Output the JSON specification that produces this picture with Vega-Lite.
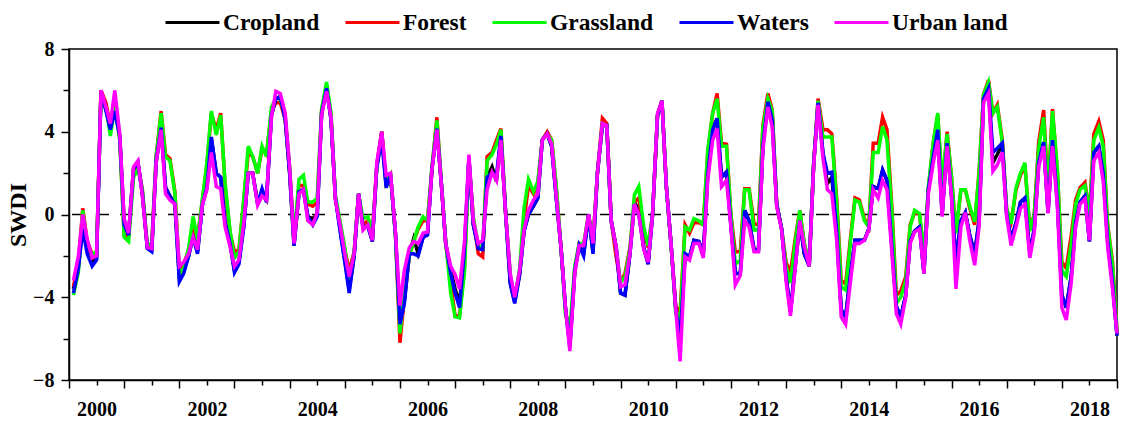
{
"$schema":"https://vega.github.io/schema/vega-lite/v6.json",
"width":1048,"height":331,
"autosize":{"type":"none"},
"padding":{"left":69,"top":49,"right":11,"bottom":44},
"config":{
 "view":{"stroke":"#000","strokeWidth":1.5},
 "axis":{"domainColor":"#000","domainWidth":1.5,"tickColor":"#000","tickWidth":1.5,"labelColor":"#000","labelFont":"Liberation Serif","labelFontWeight":"bold","labelFontSize":20,"titleFont":"Liberation Serif","titleFontWeight":"bold","titleFontSize":23,"titleColor":"#000","grid":false}
},
"layer":[
{"data":{"values":[{"zero":0}]},
 "mark":{"type":"rule","stroke":"#000","strokeWidth":1.3,"strokeDash":[13,11]},
 "encoding":{"y":{"field":"zero","type":"quantitative","scale":{"domain":[-8,8],"nice":false}}}},
{"data":{"values":[
{"t":2000.08,"Cropland":-3.6,"Forest":-3.5,"Grassland":-3.9,"Waters":-3.8,"Urban land":-3.2},
{"t":2000.17,"Cropland":-2.5,"Forest":-2.3,"Grassland":-2.8,"Waters":-2.6,"Urban land":-2.0},
{"t":2000.25,"Cropland":-0.5,"Forest":0.3,"Grassland":0.2,"Waters":-0.7,"Urban land":0.0},
{"t":2000.33,"Cropland":-1.7,"Forest":-1.3,"Grassland":-1.5,"Waters":-1.9,"Urban land":-1.2},
{"t":2000.42,"Cropland":-2.3,"Forest":-1.9,"Grassland":-1.9,"Waters":-2.5,"Urban land":-2.1},
{"t":2000.5,"Cropland":-2.1,"Forest":-1.9,"Grassland":-1.8,"Waters":-2.2,"Urban land":-2.0},
{"t":2000.58,"Cropland":6.0,"Forest":6.0,"Grassland":5.7,"Waters":5.9,"Urban land":6.0},
{"t":2000.67,"Cropland":5.1,"Forest":5.4,"Grassland":5.2,"Waters":5.0,"Urban land":5.2},
{"t":2000.75,"Cropland":4.2,"Forest":4.3,"Grassland":3.8,"Waters":4.1,"Urban land":4.4},
{"t":2000.83,"Cropland":5.1,"Forest":5.3,"Grassland":5.2,"Waters":5.0,"Urban land":6.0},
{"t":2000.92,"Cropland":3.8,"Forest":3.7,"Grassland":3.6,"Waters":3.8,"Urban land":3.9},
{"t":2001.0,"Cropland":-0.4,"Forest":-1.0,"Grassland":-1.1,"Waters":-0.5,"Urban land":-0.2},
{"t":2001.08,"Cropland":-1.0,"Forest":-1.1,"Grassland":-1.3,"Waters":-1.0,"Urban land":-0.9},
{"t":2001.17,"Cropland":2.2,"Forest":2.0,"Grassland":1.8,"Waters":2.2,"Urban land":2.3},
{"t":2001.25,"Cropland":2.5,"Forest":2.4,"Grassland":2.2,"Waters":2.5,"Urban land":2.6},
{"t":2001.33,"Cropland":1.0,"Forest":1.2,"Grassland":1.2,"Waters":1.0,"Urban land":0.9},
{"t":2001.42,"Cropland":-1.6,"Forest":-1.5,"Grassland":-1.5,"Waters":-1.65,"Urban land":-1.6},
{"t":2001.5,"Cropland":-1.7,"Forest":-1.5,"Grassland":-1.4,"Waters":-1.8,"Urban land":-1.65},
{"t":2001.58,"Cropland":2.5,"Forest":2.8,"Grassland":2.8,"Waters":2.6,"Urban land":2.5},
{"t":2001.67,"Cropland":4.2,"Forest":5.0,"Grassland":4.9,"Waters":4.2,"Urban land":4.1},
{"t":2001.75,"Cropland":1.3,"Forest":2.9,"Grassland":2.8,"Waters":1.3,"Urban land":1.0},
{"t":2001.83,"Cropland":0.9,"Forest":2.7,"Grassland":2.6,"Waters":0.85,"Urban land":0.7},
{"t":2001.92,"Cropland":0.5,"Forest":1.1,"Grassland":1.0,"Waters":0.5,"Urban land":0.5},
{"t":2002.0,"Cropland":-3.0,"Forest":-2.7,"Grassland":-2.9,"Waters":-3.25,"Urban land":-2.5},
{"t":2002.08,"Cropland":-2.7,"Forest":-2.4,"Grassland":-2.6,"Waters":-2.85,"Urban land":-2.3},
{"t":2002.17,"Cropland":-2.0,"Forest":-1.7,"Grassland":-1.6,"Waters":-2.0,"Urban land":-1.9},
{"t":2002.25,"Cropland":-0.9,"Forest":-0.7,"Grassland":-0.1,"Waters":-1.1,"Urban land":-1.1},
{"t":2002.33,"Cropland":-1.8,"Forest":-1.1,"Grassland":-1.2,"Waters":-1.9,"Urban land":-1.7},
{"t":2002.42,"Cropland":0.5,"Forest":0.7,"Grassland":0.8,"Waters":0.5,"Urban land":0.5},
{"t":2002.5,"Cropland":1.3,"Forest":2.4,"Grassland":2.5,"Waters":1.3,"Urban land":1.2},
{"t":2002.58,"Cropland":3.7,"Forest":4.9,"Grassland":5.0,"Waters":3.75,"Urban land":3.0},
{"t":2002.67,"Cropland":2.0,"Forest":4.1,"Grassland":3.85,"Waters":2.0,"Urban land":1.35},
{"t":2002.75,"Cropland":1.8,"Forest":4.9,"Grassland":4.8,"Waters":1.8,"Urban land":1.25},
{"t":2002.83,"Cropland":-0.4,"Forest":1.4,"Grassland":1.5,"Waters":-0.4,"Urban land":-0.6},
{"t":2002.92,"Cropland":-1.4,"Forest":-0.9,"Grassland":-0.8,"Waters":-1.4,"Urban land":-1.55},
{"t":2003.0,"Cropland":-2.7,"Forest":-1.8,"Grassland":-2.1,"Waters":-2.8,"Urban land":-2.5},
{"t":2003.08,"Cropland":-2.3,"Forest":-1.7,"Grassland":-1.8,"Waters":-2.4,"Urban land":-2.2},
{"t":2003.17,"Cropland":-0.5,"Forest":0.7,"Grassland":0.8,"Waters":-0.6,"Urban land":-0.4},
{"t":2003.25,"Cropland":2.0,"Forest":3.0,"Grassland":3.3,"Waters":2.0,"Urban land":2.0},
{"t":2003.33,"Cropland":2.0,"Forest":2.8,"Grassland":2.8,"Waters":2.0,"Urban land":2.0},
{"t":2003.42,"Cropland":0.6,"Forest":2.0,"Grassland":2.0,"Waters":0.5,"Urban land":0.45},
{"t":2003.5,"Cropland":1.0,"Forest":3.2,"Grassland":3.3,"Waters":1.25,"Urban land":0.9},
{"t":2003.58,"Cropland":0.7,"Forest":2.9,"Grassland":2.8,"Waters":0.6,"Urban land":0.7},
{"t":2003.67,"Cropland":4.8,"Forest":5.0,"Grassland":5.2,"Waters":4.8,"Urban land":4.7},
{"t":2003.75,"Cropland":5.6,"Forest":5.4,"Grassland":5.6,"Waters":5.6,"Urban land":5.95},
{"t":2003.83,"Cropland":5.7,"Forest":5.4,"Grassland":5.6,"Waters":5.7,"Urban land":5.85},
{"t":2003.92,"Cropland":4.6,"Forest":4.6,"Grassland":4.7,"Waters":4.6,"Urban land":4.9},
{"t":2004.0,"Cropland":2.0,"Forest":2.2,"Grassland":2.3,"Waters":2.0,"Urban land":2.3},
{"t":2004.08,"Cropland":-1.5,"Forest":-1.3,"Grassland":-1.2,"Waters":-1.5,"Urban land":-1.4},
{"t":2004.17,"Cropland":1.1,"Forest":1.4,"Grassland":1.7,"Waters":1.1,"Urban land":1.0},
{"t":2004.25,"Cropland":1.2,"Forest":1.4,"Grassland":1.9,"Waters":1.2,"Urban land":1.2},
{"t":2004.33,"Cropland":-0.1,"Forest":0.5,"Grassland":0.6,"Waters":-0.1,"Urban land":-0.3},
{"t":2004.42,"Cropland":-0.2,"Forest":0.4,"Grassland":0.6,"Waters":-0.5,"Urban land":-0.5},
{"t":2004.5,"Cropland":0.0,"Forest":0.6,"Grassland":0.8,"Waters":-0.1,"Urban land":0.1},
{"t":2004.58,"Cropland":4.9,"Forest":5.0,"Grassland":5.1,"Waters":4.9,"Urban land":4.8},
{"t":2004.67,"Cropland":6.1,"Forest":6.2,"Grassland":6.4,"Waters":6.1,"Urban land":5.95},
{"t":2004.75,"Cropland":4.6,"Forest":4.8,"Grassland":4.9,"Waters":4.6,"Urban land":4.7},
{"t":2004.83,"Cropland":0.8,"Forest":0.8,"Grassland":0.9,"Waters":0.8,"Urban land":0.7},
{"t":2004.92,"Cropland":-0.8,"Forest":-0.5,"Grassland":-0.4,"Waters":-0.9,"Urban land":-0.6},
{"t":2005.0,"Cropland":-2.2,"Forest":-1.7,"Grassland":-1.6,"Waters":-2.3,"Urban land":-1.9},
{"t":2005.08,"Cropland":-3.6,"Forest":-2.7,"Grassland":-3.2,"Waters":-3.8,"Urban land":-3.0},
{"t":2005.17,"Cropland":-2.0,"Forest":-1.8,"Grassland":-1.8,"Waters":-2.0,"Urban land":-1.9},
{"t":2005.25,"Cropland":1.0,"Forest":1.0,"Grassland":1.0,"Waters":1.0,"Urban land":1.0},
{"t":2005.33,"Cropland":-0.6,"Forest":-0.5,"Grassland":-0.2,"Waters":-0.6,"Urban land":-0.75},
{"t":2005.42,"Cropland":-0.5,"Forest":-0.3,"Grassland":-0.1,"Waters":-0.6,"Urban land":-0.5},
{"t":2005.5,"Cropland":-1.3,"Forest":-1.0,"Grassland":-0.9,"Waters":-1.3,"Urban land":-1.25},
{"t":2005.58,"Cropland":2.3,"Forest":2.4,"Grassland":2.3,"Waters":2.3,"Urban land":2.5},
{"t":2005.67,"Cropland":4.0,"Forest":4.0,"Grassland":3.8,"Waters":3.6,"Urban land":4.0},
{"t":2005.75,"Cropland":1.4,"Forest":1.5,"Grassland":1.5,"Waters":1.3,"Urban land":1.9},
{"t":2005.83,"Cropland":1.9,"Forest":1.9,"Grassland":1.9,"Waters":1.9,"Urban land":2.0},
{"t":2005.92,"Cropland":-1.0,"Forest":-1.0,"Grassland":-1.1,"Waters":-1.0,"Urban land":-0.9},
{"t":2006.0,"Cropland":-5.5,"Forest":-6.2,"Grassland":-5.75,"Waters":-5.3,"Urban land":-4.4},
{"t":2006.08,"Cropland":-4.2,"Forest":-4.0,"Grassland":-3.8,"Waters":-4.3,"Urban land":-2.7},
{"t":2006.17,"Cropland":-1.9,"Forest":-2.0,"Grassland":-2.0,"Waters":-1.9,"Urban land":-1.6},
{"t":2006.25,"Cropland":-1.15,"Forest":-1.3,"Grassland":-1.3,"Waters":-1.9,"Urban land":-1.3},
{"t":2006.33,"Cropland":-1.9,"Forest":-0.7,"Grassland":-0.6,"Waters":-2.0,"Urban land":-1.4},
{"t":2006.42,"Cropland":-1.1,"Forest":-0.3,"Grassland":-0.1,"Waters":-1.1,"Urban land":-0.9},
{"t":2006.5,"Cropland":-0.9,"Forest":-0.3,"Grassland":-0.3,"Waters":-1.0,"Urban land":-0.85},
{"t":2006.58,"Cropland":2.2,"Forest":2.2,"Grassland":2.3,"Waters":2.2,"Urban land":2.15},
{"t":2006.67,"Cropland":4.15,"Forest":4.7,"Grassland":4.55,"Waters":4.15,"Urban land":4.1},
{"t":2006.75,"Cropland":1.5,"Forest":1.5,"Grassland":1.6,"Waters":1.5,"Urban land":1.5},
{"t":2006.83,"Cropland":-1.4,"Forest":-1.4,"Grassland":-1.3,"Waters":-1.4,"Urban land":-1.4},
{"t":2006.92,"Cropland":-2.7,"Forest":-3.3,"Grassland":-3.8,"Waters":-2.85,"Urban land":-2.5},
{"t":2007.0,"Cropland":-3.6,"Forest":-4.9,"Grassland":-4.95,"Waters":-3.8,"Urban land":-2.9},
{"t":2007.08,"Cropland":-4.3,"Forest":-4.9,"Grassland":-5.0,"Waters":-4.5,"Urban land":-3.6},
{"t":2007.17,"Cropland":-1.7,"Forest":-2.5,"Grassland":-2.8,"Waters":-1.7,"Urban land":-1.3},
{"t":2007.25,"Cropland":2.7,"Forest":2.7,"Grassland":2.6,"Waters":2.7,"Urban land":2.9},
{"t":2007.33,"Cropland":-0.5,"Forest":-0.2,"Grassland":-0.1,"Waters":-0.5,"Urban land":-0.3},
{"t":2007.42,"Cropland":-1.6,"Forest":-1.9,"Grassland":-1.5,"Waters":-1.65,"Urban land":-1.4},
{"t":2007.5,"Cropland":-1.7,"Forest":-2.05,"Grassland":-1.6,"Waters":-1.7,"Urban land":-1.25},
{"t":2007.58,"Cropland":1.8,"Forest":2.8,"Grassland":2.6,"Waters":1.8,"Urban land":1.2},
{"t":2007.67,"Cropland":2.3,"Forest":3.0,"Grassland":2.9,"Waters":2.0,"Urban land":2.05},
{"t":2007.75,"Cropland":1.6,"Forest":3.6,"Grassland":3.4,"Waters":1.9,"Urban land":1.65},
{"t":2007.83,"Cropland":3.8,"Forest":4.15,"Grassland":4.1,"Waters":3.8,"Urban land":3.6},
{"t":2007.92,"Cropland":-0.1,"Forest":-0.1,"Grassland":-0.1,"Waters":-0.1,"Urban land":-0.1},
{"t":2008.0,"Cropland":-3.3,"Forest":-3.0,"Grassland":-2.9,"Waters":-3.35,"Urban land":-2.85},
{"t":2008.08,"Cropland":-4.2,"Forest":-4.1,"Grassland":-4.1,"Waters":-4.3,"Urban land":-4.0},
{"t":2008.17,"Cropland":-2.9,"Forest":-2.7,"Grassland":-2.6,"Waters":-2.9,"Urban land":-2.7},
{"t":2008.25,"Cropland":-0.8,"Forest":-0.3,"Grassland":0.3,"Waters":-0.8,"Urban land":-0.75},
{"t":2008.33,"Cropland":0.0,"Forest":1.4,"Grassland":1.7,"Waters":0.0,"Urban land":0.2},
{"t":2008.42,"Cropland":0.4,"Forest":1.0,"Grassland":1.1,"Waters":0.4,"Urban land":0.7},
{"t":2008.5,"Cropland":0.8,"Forest":1.5,"Grassland":1.6,"Waters":0.8,"Urban land":1.0},
{"t":2008.58,"Cropland":3.6,"Forest":3.6,"Grassland":3.6,"Waters":3.6,"Urban land":3.6},
{"t":2008.67,"Cropland":3.9,"Forest":4.0,"Grassland":3.9,"Waters":3.9,"Urban land":3.9},
{"t":2008.75,"Cropland":3.3,"Forest":3.6,"Grassland":3.6,"Waters":3.3,"Urban land":3.4},
{"t":2008.83,"Cropland":0.9,"Forest":1.4,"Grassland":1.5,"Waters":0.9,"Urban land":1.0},
{"t":2008.92,"Cropland":-1.6,"Forest":-1.6,"Grassland":-1.6,"Waters":-1.6,"Urban land":-1.6},
{"t":2009.0,"Cropland":-4.5,"Forest":-4.6,"Grassland":-4.8,"Waters":-4.5,"Urban land":-4.45},
{"t":2009.08,"Cropland":-6.3,"Forest":-6.1,"Grassland":-5.6,"Waters":-6.4,"Urban land":-6.6},
{"t":2009.17,"Cropland":-2.7,"Forest":-2.6,"Grassland":-2.5,"Waters":-2.7,"Urban land":-2.85},
{"t":2009.25,"Cropland":-1.5,"Forest":-1.4,"Grassland":-1.4,"Waters":-1.5,"Urban land":-1.5},
{"t":2009.33,"Cropland":-1.9,"Forest":-1.5,"Grassland":-1.4,"Waters":-2.0,"Urban land":-1.5},
{"t":2009.42,"Cropland":0.0,"Forest":0.0,"Grassland":0.0,"Waters":0.0,"Urban land":0.0},
{"t":2009.5,"Cropland":-1.8,"Forest":-1.3,"Grassland":-1.3,"Waters":-1.9,"Urban land":-1.4},
{"t":2009.58,"Cropland":2.0,"Forest":2.0,"Grassland":2.0,"Waters":2.0,"Urban land":2.0},
{"t":2009.67,"Cropland":4.3,"Forest":4.65,"Grassland":4.4,"Waters":4.3,"Urban land":4.4},
{"t":2009.75,"Cropland":4.3,"Forest":4.4,"Grassland":4.3,"Waters":4.3,"Urban land":4.3},
{"t":2009.83,"Cropland":-0.3,"Forest":-0.3,"Grassland":-0.3,"Waters":-0.3,"Urban land":-0.3},
{"t":2009.92,"Cropland":-1.6,"Forest":-2.05,"Grassland":-1.6,"Waters":-1.6,"Urban land":-1.55},
{"t":2010.0,"Cropland":-3.8,"Forest":-3.3,"Grassland":-3.3,"Waters":-3.8,"Urban land":-3.5},
{"t":2010.08,"Cropland":-3.9,"Forest":-2.85,"Grassland":-3.0,"Waters":-3.9,"Urban land":-3.4},
{"t":2010.17,"Cropland":-1.9,"Forest":-1.6,"Grassland":-1.7,"Waters":-1.9,"Urban land":-1.9},
{"t":2010.25,"Cropland":0.6,"Forest":0.6,"Grassland":0.95,"Waters":0.5,"Urban land":0.5},
{"t":2010.33,"Cropland":0.2,"Forest":0.8,"Grassland":1.35,"Waters":0.0,"Urban land":0.0},
{"t":2010.42,"Cropland":-1.6,"Forest":-0.8,"Grassland":-0.6,"Waters":-1.6,"Urban land":-1.7},
{"t":2010.5,"Cropland":-2.4,"Forest":-1.6,"Grassland":-1.5,"Waters":-2.4,"Urban land":-2.3},
{"t":2010.58,"Cropland":0.0,"Forest":0.0,"Grassland":0.0,"Waters":0.0,"Urban land":0.0},
{"t":2010.67,"Cropland":4.8,"Forest":4.8,"Grassland":4.8,"Waters":4.8,"Urban land":4.9},
{"t":2010.75,"Cropland":5.5,"Forest":5.5,"Grassland":5.5,"Waters":5.5,"Urban land":5.5},
{"t":2010.83,"Cropland":1.35,"Forest":1.35,"Grassland":1.35,"Waters":1.35,"Urban land":1.35},
{"t":2010.92,"Cropland":-1.6,"Forest":-1.6,"Grassland":-1.6,"Waters":-1.6,"Urban land":-1.6},
{"t":2011.0,"Cropland":-4.5,"Forest":-4.45,"Grassland":-4.8,"Waters":-4.6,"Urban land":-4.6},
{"t":2011.08,"Cropland":-6.0,"Forest":-4.7,"Grassland":-5.0,"Waters":-6.0,"Urban land":-7.1},
{"t":2011.17,"Cropland":-1.9,"Forest":-0.5,"Grassland":-0.6,"Waters":-1.9,"Urban land":-2.05},
{"t":2011.25,"Cropland":-2.05,"Forest":-0.9,"Grassland":-0.75,"Waters":-2.05,"Urban land":-2.2},
{"t":2011.33,"Cropland":-1.25,"Forest":-0.4,"Grassland":-0.2,"Waters":-1.25,"Urban land":-1.4},
{"t":2011.42,"Cropland":-1.3,"Forest":-0.4,"Grassland":-0.3,"Waters":-1.3,"Urban land":-1.4},
{"t":2011.5,"Cropland":-1.9,"Forest":-0.5,"Grassland":-0.5,"Waters":-1.9,"Urban land":-2.1},
{"t":2011.58,"Cropland":1.9,"Forest":3.0,"Grassland":3.1,"Waters":1.9,"Urban land":1.65},
{"t":2011.67,"Cropland":4.1,"Forest":4.9,"Grassland":4.9,"Waters":4.1,"Urban land":3.6},
{"t":2011.75,"Cropland":4.65,"Forest":5.85,"Grassland":5.6,"Waters":4.65,"Urban land":4.15},
{"t":2011.83,"Cropland":1.8,"Forest":3.45,"Grassland":3.3,"Waters":1.8,"Urban land":1.35},
{"t":2011.92,"Cropland":2.05,"Forest":3.4,"Grassland":3.3,"Waters":2.05,"Urban land":1.65},
{"t":2012.0,"Cropland":-0.5,"Forest":0.0,"Grassland":0.0,"Waters":-0.5,"Urban land":-0.6},
{"t":2012.08,"Cropland":-2.85,"Forest":-1.8,"Grassland":-2.4,"Waters":-2.85,"Urban land":-3.4},
{"t":2012.17,"Cropland":-2.85,"Forest":-1.8,"Grassland":-2.2,"Waters":-2.85,"Urban land":-2.95},
{"t":2012.25,"Cropland":0.2,"Forest":1.25,"Grassland":1.2,"Waters":0.2,"Urban land":-0.3},
{"t":2012.33,"Cropland":-0.3,"Forest":1.25,"Grassland":1.2,"Waters":-0.3,"Urban land":-0.6},
{"t":2012.42,"Cropland":-1.7,"Forest":-0.45,"Grassland":-0.75,"Waters":-1.7,"Urban land":-1.8},
{"t":2012.5,"Cropland":-1.7,"Forest":-0.5,"Grassland":-0.75,"Waters":-1.7,"Urban land":-1.8},
{"t":2012.58,"Cropland":3.3,"Forest":4.3,"Grassland":4.2,"Waters":3.3,"Urban land":3.1},
{"t":2012.67,"Cropland":5.45,"Forest":5.85,"Grassland":5.6,"Waters":5.45,"Urban land":5.2},
{"t":2012.75,"Cropland":4.55,"Forest":5.05,"Grassland":5.0,"Waters":4.55,"Urban land":4.2},
{"t":2012.83,"Cropland":0.5,"Forest":0.5,"Grassland":0.5,"Waters":0.5,"Urban land":0.4},
{"t":2012.92,"Cropland":-0.7,"Forest":-0.7,"Grassland":-0.7,"Waters":-0.7,"Urban land":-0.75},
{"t":2013.0,"Cropland":-3.0,"Forest":-2.3,"Grassland":-2.5,"Waters":-3.0,"Urban land":-3.2},
{"t":2013.08,"Cropland":-4.7,"Forest":-2.8,"Grassland":-3.3,"Waters":-4.7,"Urban land":-4.9},
{"t":2013.17,"Cropland":-2.4,"Forest":-1.1,"Grassland":-1.25,"Waters":-2.4,"Urban land":-2.5},
{"t":2013.25,"Cropland":-0.3,"Forest":0.2,"Grassland":0.2,"Waters":-0.3,"Urban land":-0.3},
{"t":2013.33,"Cropland":-1.9,"Forest":-1.4,"Grassland":-1.4,"Waters":-1.9,"Urban land":-1.55},
{"t":2013.42,"Cropland":-2.5,"Forest":-2.4,"Grassland":-2.4,"Waters":-2.5,"Urban land":-2.5},
{"t":2013.5,"Cropland":2.4,"Forest":2.4,"Grassland":2.4,"Waters":2.4,"Urban land":2.3},
{"t":2013.58,"Cropland":5.4,"Forest":5.6,"Grassland":5.5,"Waters":5.4,"Urban land":5.3},
{"t":2013.67,"Cropland":2.95,"Forest":4.1,"Grassland":3.75,"Waters":2.95,"Urban land":2.7},
{"t":2013.75,"Cropland":1.5,"Forest":4.1,"Grassland":3.75,"Waters":2.0,"Urban land":1.2},
{"t":2013.83,"Cropland":1.8,"Forest":3.9,"Grassland":3.75,"Waters":2.05,"Urban land":1.0},
{"t":2013.92,"Cropland":-0.9,"Forest":0.7,"Grassland":0.5,"Waters":-0.9,"Urban land":-1.3},
{"t":2014.0,"Cropland":-4.6,"Forest":-3.2,"Grassland":-3.5,"Waters":-4.6,"Urban land":-4.95},
{"t":2014.08,"Cropland":-4.95,"Forest":-3.35,"Grassland":-3.65,"Waters":-4.95,"Urban land":-5.3},
{"t":2014.17,"Cropland":-2.85,"Forest":-1.1,"Grassland":-1.25,"Waters":-2.85,"Urban land":-3.2},
{"t":2014.25,"Cropland":-1.25,"Forest":0.8,"Grassland":0.7,"Waters":-1.25,"Urban land":-1.4},
{"t":2014.33,"Cropland":-1.25,"Forest":0.7,"Grassland":0.6,"Waters":-1.25,"Urban land":-1.4},
{"t":2014.42,"Cropland":-1.25,"Forest":-0.2,"Grassland":-0.3,"Waters":-1.25,"Urban land":-1.25},
{"t":2014.5,"Cropland":-0.7,"Forest":-0.6,"Grassland":-0.6,"Waters":-0.7,"Urban land":-0.75},
{"t":2014.58,"Cropland":1.35,"Forest":3.45,"Grassland":3.0,"Waters":1.35,"Urban land":1.2},
{"t":2014.67,"Cropland":1.25,"Forest":3.45,"Grassland":3.0,"Waters":1.25,"Urban land":0.8},
{"t":2014.75,"Cropland":2.15,"Forest":4.7,"Grassland":4.25,"Waters":2.15,"Urban land":1.65},
{"t":2014.83,"Cropland":1.65,"Forest":4.1,"Grassland":3.6,"Waters":1.65,"Urban land":1.2},
{"t":2014.92,"Cropland":-1.6,"Forest":0.3,"Grassland":0.05,"Waters":-1.6,"Urban land":-1.9},
{"t":2015.0,"Cropland":-4.45,"Forest":-3.9,"Grassland":-4.3,"Waters":-4.45,"Urban land":-4.8},
{"t":2015.08,"Cropland":-4.95,"Forest":-3.7,"Grassland":-4.0,"Waters":-4.95,"Urban land":-5.3},
{"t":2015.17,"Cropland":-3.9,"Forest":-3.0,"Grassland":-3.2,"Waters":-3.9,"Urban land":-4.0},
{"t":2015.25,"Cropland":-1.3,"Forest":-0.5,"Grassland":-0.6,"Waters":-1.3,"Urban land":-1.4},
{"t":2015.33,"Cropland":-0.8,"Forest":0.1,"Grassland":0.2,"Waters":-0.8,"Urban land":-0.85},
{"t":2015.42,"Cropland":-0.6,"Forest":0.0,"Grassland":0.05,"Waters":-0.6,"Urban land":-0.7},
{"t":2015.5,"Cropland":-2.85,"Forest":-2.0,"Grassland":-2.05,"Waters":-2.85,"Urban land":-2.85},
{"t":2015.58,"Cropland":1.2,"Forest":1.2,"Grassland":1.35,"Waters":1.2,"Urban land":1.0},
{"t":2015.67,"Cropland":2.8,"Forest":3.5,"Grassland":3.5,"Waters":2.8,"Urban land":2.5},
{"t":2015.75,"Cropland":4.1,"Forest":4.8,"Grassland":4.9,"Waters":4.1,"Urban land":3.6},
{"t":2015.83,"Cropland":0.0,"Forest":1.3,"Grassland":1.5,"Waters":0.0,"Urban land":-0.1},
{"t":2015.92,"Cropland":3.45,"Forest":4.0,"Grassland":3.9,"Waters":3.45,"Urban land":3.3},
{"t":2016.0,"Cropland":0.9,"Forest":1.8,"Grassland":1.8,"Waters":0.9,"Urban land":0.85},
{"t":2016.08,"Cropland":-2.3,"Forest":-0.85,"Grassland":-0.9,"Waters":-2.3,"Urban land":-3.6},
{"t":2016.17,"Cropland":-0.3,"Forest":1.2,"Grassland":1.2,"Waters":-0.3,"Urban land":-0.6},
{"t":2016.25,"Cropland":0.1,"Forest":1.2,"Grassland":1.2,"Waters":0.1,"Urban land":0.1},
{"t":2016.33,"Cropland":-1.0,"Forest":0.3,"Grassland":0.4,"Waters":-1.0,"Urban land":-1.25},
{"t":2016.42,"Cropland":-1.9,"Forest":-0.5,"Grassland":-0.35,"Waters":-1.9,"Urban land":-2.45},
{"t":2016.5,"Cropland":-0.3,"Forest":2.1,"Grassland":2.0,"Waters":-0.3,"Urban land":-0.6},
{"t":2016.58,"Cropland":5.6,"Forest":5.8,"Grassland":5.8,"Waters":5.6,"Urban land":5.4},
{"t":2016.67,"Cropland":6.1,"Forest":6.5,"Grassland":6.4,"Waters":6.1,"Urban land":5.85},
{"t":2016.75,"Cropland":2.5,"Forest":4.9,"Grassland":4.9,"Waters":3.0,"Urban land":2.1},
{"t":2016.83,"Cropland":2.9,"Forest":5.3,"Grassland":5.2,"Waters":3.2,"Urban land":2.4},
{"t":2016.92,"Cropland":3.4,"Forest":3.6,"Grassland":3.5,"Waters":3.45,"Urban land":3.0},
{"t":2017.0,"Cropland":0.0,"Forest":0.2,"Grassland":0.3,"Waters":0.0,"Urban land":-0.1},
{"t":2017.08,"Cropland":-1.2,"Forest":-0.35,"Grassland":-0.45,"Waters":-1.2,"Urban land":-1.5},
{"t":2017.17,"Cropland":-0.4,"Forest":1.2,"Grassland":1.3,"Waters":-0.4,"Urban land":-0.6},
{"t":2017.25,"Cropland":0.6,"Forest":1.9,"Grassland":2.0,"Waters":0.6,"Urban land":0.3},
{"t":2017.33,"Cropland":0.8,"Forest":2.4,"Grassland":2.5,"Waters":0.8,"Urban land":0.5},
{"t":2017.42,"Cropland":-1.9,"Forest":-0.7,"Grassland":-0.8,"Waters":-1.9,"Urban land":-2.1},
{"t":2017.5,"Cropland":-0.7,"Forest":0.0,"Grassland":0.0,"Waters":-0.7,"Urban land":-0.9},
{"t":2017.58,"Cropland":2.5,"Forest":3.5,"Grassland":3.2,"Waters":2.5,"Urban land":2.3},
{"t":2017.67,"Cropland":3.5,"Forest":5.05,"Grassland":4.7,"Waters":3.5,"Urban land":3.3},
{"t":2017.75,"Cropland":0.1,"Forest":1.2,"Grassland":1.0,"Waters":0.1,"Urban land":0.05},
{"t":2017.83,"Cropland":3.6,"Forest":5.1,"Grassland":5.0,"Waters":3.6,"Urban land":3.3},
{"t":2017.92,"Cropland":0.6,"Forest":2.0,"Grassland":2.2,"Waters":0.6,"Urban land":0.35},
{"t":2018.0,"Cropland":-3.9,"Forest":-2.3,"Grassland":-2.7,"Waters":-3.9,"Urban land":-4.5},
{"t":2018.08,"Cropland":-4.5,"Forest":-2.6,"Grassland":-3.0,"Waters":-4.5,"Urban land":-5.1},
{"t":2018.17,"Cropland":-3.0,"Forest":-1.0,"Grassland":-1.4,"Waters":-3.0,"Urban land":-3.3},
{"t":2018.25,"Cropland":-0.4,"Forest":0.7,"Grassland":0.5,"Waters":-0.4,"Urban land":-0.6},
{"t":2018.33,"Cropland":0.6,"Forest":1.3,"Grassland":1.2,"Waters":0.6,"Urban land":0.5},
{"t":2018.42,"Cropland":0.9,"Forest":1.55,"Grassland":1.4,"Waters":0.9,"Urban land":0.75},
{"t":2018.5,"Cropland":-1.3,"Forest":0.0,"Grassland":0.0,"Waters":-1.3,"Urban land":-1.25},
{"t":2018.58,"Cropland":3.0,"Forest":3.9,"Grassland":3.6,"Waters":3.0,"Urban land":2.6},
{"t":2018.67,"Cropland":3.3,"Forest":4.5,"Grassland":4.2,"Waters":3.3,"Urban land":3.0},
{"t":2018.75,"Cropland":2.0,"Forest":3.6,"Grassland":3.3,"Waters":2.0,"Urban land":1.6},
{"t":2018.83,"Cropland":-1.25,"Forest":-0.5,"Grassland":-0.5,"Waters":-1.25,"Urban land":-1.55},
{"t":2018.92,"Cropland":-3.35,"Forest":-2.3,"Grassland":-2.5,"Waters":-3.35,"Urban land":-3.65},
{"t":2019.0,"Cropland":-5.85,"Forest":-5.6,"Grassland":-5.7,"Waters":-5.85,"Urban land":-5.75}
]},
 "transform":[{"fold":["Cropland","Forest","Grassland","Waters","Urban land"],"as":["Type","SWDI"]}],
 "mark":{"type":"line","strokeWidth":3.5,"strokeJoin":"miter"},
 "encoding":{
  "x":{"field":"t","type":"quantitative","scale":{"domain":[2000,2019],"nice":false,"zero":false},
   "axis":{"title":null,"values":[2000,2000.5,2001,2001.5,2002,2002.5,2003,2003.5,2004,2004.5,2005,2005.5,2006,2006.5,2007,2007.5,2008,2008.5,2009,2009.5,2010,2010.5,2011,2011.5,2012,2012.5,2013,2013.5,2014,2014.5,2015,2015.5,2016,2016.5,2017,2017.5,2018,2018.5,2019],
    "labelExpr":"(datum.value - 0.5) % 2 == 0 ? format(datum.value - 0.5, 'd') : ''",
    "tickSize":{"condition":{"test":"datum.value % 1 == 0","value":8},"value":5},
    "labelPadding":14,"labelFlush":false,"labelOverlap":false}},
  "y":{"field":"SWDI","type":"quantitative","scale":{"domain":[-8,8],"nice":false},
   "axis":{"title":"SWDI","values":[-8,-6,-4,-2,0,2,4,6,8],
    "labelExpr":"datum.value % 4 == 0 ? datum.label : ''",
    "tickSize":{"condition":{"test":"datum.value % 4 == 0","value":8},"value":6},
    "labelPadding":7,"titleX":-51,"titleBaseline":"middle","titleFontSize":24}},
  "color":{"field":"Type","type":"nominal",
   "scale":{"domain":["Cropland","Forest","Grassland","Waters","Urban land"],"range":["#000000","#FF0000","#00FF00","#0000FF","#FF00FF"]},
   "legend":{"orient":"none","legendX":95,"legendY":-55,"direction":"horizontal","title":null,"symbolType":"stroke","symbolSize":2916,"symbolStrokeWidth":3,"labelFont":"Liberation Serif","labelFontWeight":"bold","labelFontSize":23.5,"labelColor":"#000","labelOffset":2,"columnPadding":19,"padding":0}}
 }}
]
}
